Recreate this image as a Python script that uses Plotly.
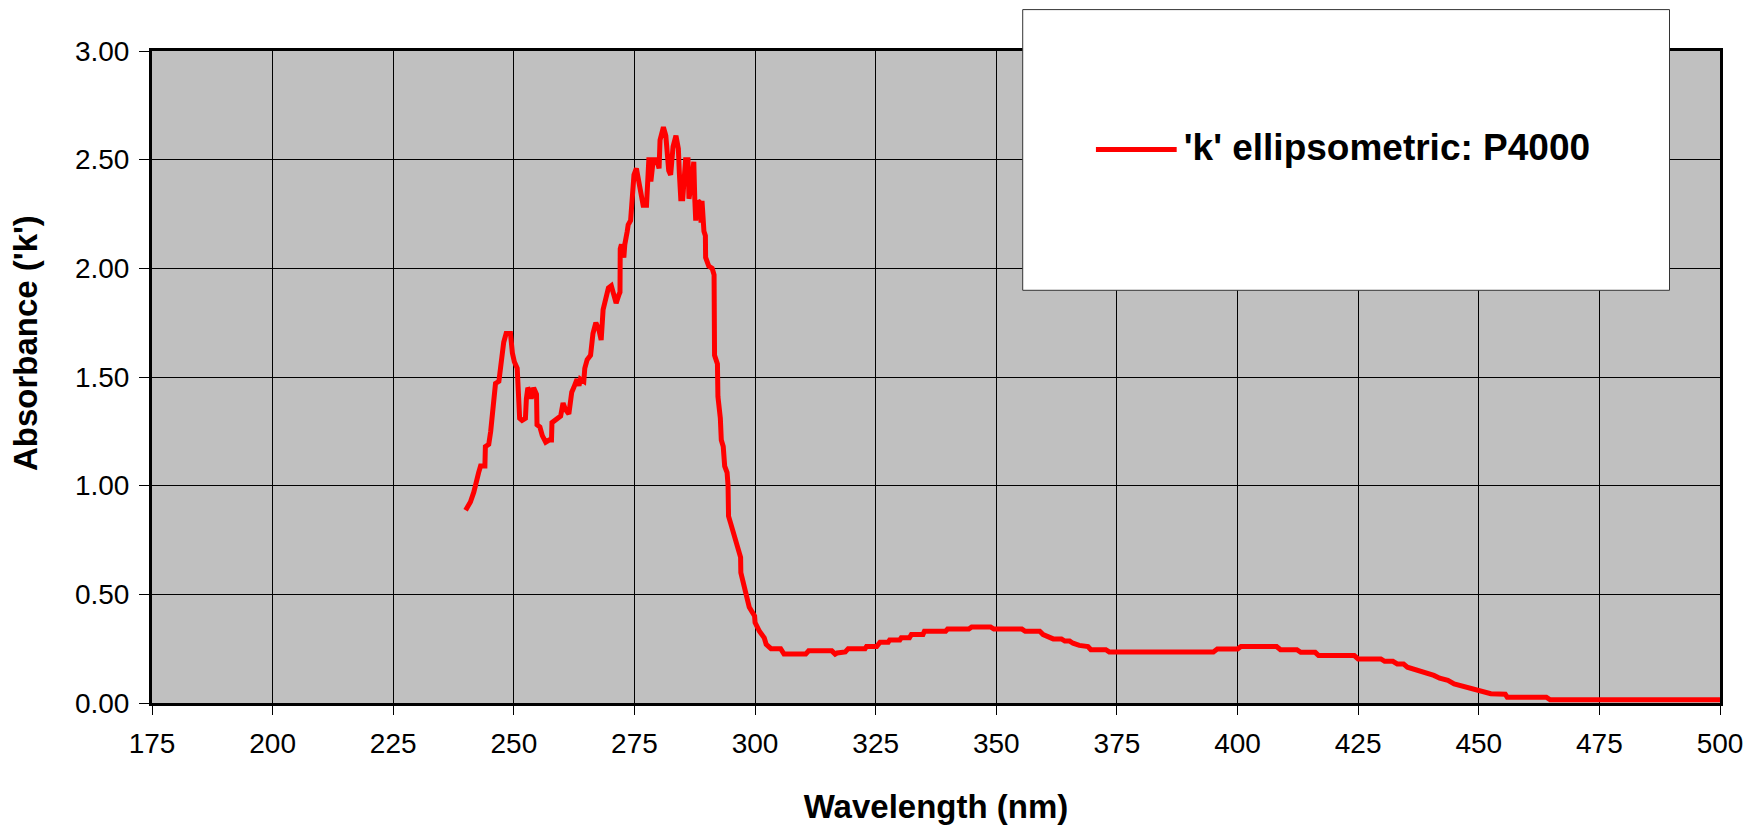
import plotly.graph_objects as go

wavelength = [
    240.0, 241.0, 241.7, 242.4, 242.7, 243.1, 244.0, 244.1, 244.8, 245.2,
    245.5, 245.9, 246.2, 246.9, 247.1, 247.4, 247.5, 247.9, 248.4, 249.3,
    249.7, 250.1, 250.7, 250.8, 251.0, 251.2, 251.7, 252.4, 252.6, 252.9,
    253.5, 253.6, 254.1, 254.7, 254.8, 255.4, 255.9, 256.6, 257.3, 257.8,
    257.9, 259.0, 259.7, 260.2, 260.7, 261.4, 262.0, 262.4, 263.1, 263.5,
    263.8, 264.5, 264.7, 265.2, 265.9, 266.4, 267.0, 267.6, 268.1, 268.5,
    269.0, 269.6, 270.2, 270.7, 271.2, 271.8, 272.0, 272.05, 272.3, 272.8,
    273.0, 273.5, 273.7, 274.2, 274.5, 274.9, 275.4, 276.3, 276.8, 277.5,
    277.7, 278.0, 278.4, 278.9, 279.6, 280.1, 280.3, 281.0, 281.5, 282.1,
    282.5, 283.0, 283.6, 284.1, 284.3, 284.6, 285.0, 285.6, 286.1, 286.3,
    286.8, 287.1, 287.3, 287.5, 287.7, 288.2, 288.7, 288.8, 289.0, 289.4,
    289.7, 289.75, 290.4, 291.1, 291.5, 291.6, 292.2, 292.3, 292.8, 293.0,
    293.4, 293.7, 294.2, 294.4, 294.5, 294.9, 295.6, 296.2, 297.0, 297.05,
    297.8, 298.8, 299.9, 300.0, 300.9, 301.9, 302.3, 303.3, 305.3, 306.0,
    310.5, 311.1, 315.9, 316.6, 317.0, 318.7, 319.3, 322.8, 323.1, 325.2,
    325.9, 327.6, 327.9, 330.0, 330.3, 332.0, 332.4, 334.8, 335.1, 339.5,
    339.9, 344.3, 344.9, 348.8, 349.5, 355.3, 356.0, 359.0, 359.7, 361.1,
    361.8, 363.5, 364.2, 365.2, 365.9, 367.2, 369.0, 369.6, 372.7, 373.4,
    395.0, 395.8, 400.0, 400.7, 408.1, 408.9, 412.3, 413.1, 416.1, 416.8,
    424.2, 425.0, 429.7, 430.5, 432.2, 433.1, 434.4, 435.2, 436.4, 438.1,
    439.0, 440.7, 441.9, 443.6, 444.9, 447.0, 448.7, 450.4, 452.5, 455.5,
    455.9, 464.0, 464.8, 500.0,
]

k_value = [
    0.887, 0.925, 0.97, 1.02, 1.06, 1.09, 1.09, 1.18, 1.19, 1.25,
    1.31, 1.38, 1.47, 1.48, 1.52, 1.55, 1.61, 1.66, 1.70, 1.70,
    1.61, 1.57, 1.54, 1.45, 1.40, 1.31, 1.30, 1.31, 1.40, 1.45,
    1.43, 1.40, 1.45, 1.42, 1.28, 1.27, 1.23, 1.20, 1.21, 1.21,
    1.29, 1.31, 1.32, 1.38, 1.35, 1.33, 1.43, 1.45, 1.49, 1.46,
    1.49, 1.48, 1.54, 1.58, 1.60, 1.70, 1.75, 1.72, 1.67, 1.81,
    1.86, 1.91, 1.92, 1.87, 1.84, 1.88, 1.89, 2.09, 2.11, 2.05,
    2.11, 2.17, 2.20, 2.22, 2.32, 2.43, 2.46, 2.36, 2.29, 2.29,
    2.39, 2.51, 2.40, 2.50, 2.50, 2.46, 2.59, 2.65, 2.61, 2.45,
    2.43, 2.56, 2.61, 2.55, 2.44, 2.32, 2.32, 2.50, 2.50, 2.32,
    2.39, 2.49, 2.49, 2.32, 2.22, 2.31, 2.30, 2.21, 2.31, 2.17,
    2.15, 2.05, 2.01, 2.00, 1.97, 1.60, 1.56, 1.41, 1.31, 1.21,
    1.18, 1.09, 1.06, 1.00, 0.86, 0.83, 0.78, 0.73, 0.67, 0.60,
    0.52, 0.44, 0.40, 0.37, 0.33, 0.30, 0.27, 0.25, 0.25, 0.225,
    0.225, 0.24, 0.24, 0.225, 0.23, 0.235, 0.25, 0.25, 0.26, 0.26,
    0.28, 0.28, 0.29, 0.29, 0.30, 0.30, 0.315, 0.315, 0.33, 0.33,
    0.34, 0.34, 0.35, 0.35, 0.34, 0.34, 0.33, 0.33, 0.315, 0.305,
    0.295, 0.295, 0.285, 0.285, 0.275, 0.265, 0.26, 0.245, 0.245, 0.235,
    0.235, 0.248, 0.248, 0.26, 0.26, 0.245, 0.245, 0.233, 0.233, 0.218,
    0.218, 0.203, 0.203, 0.192, 0.192, 0.18, 0.18, 0.165, 0.157, 0.146,
    0.137, 0.127, 0.114, 0.104, 0.088, 0.076, 0.066, 0.053, 0.043, 0.04,
    0.027, 0.027, 0.015, 0.015,
]

x_ticks = [175, 200, 225, 250, 275, 300, 325, 350, 375, 400, 425, 450, 475, 500]
y_ticks = [0.0, 0.5, 1.0, 1.5, 2.0, 2.5, 3.0]
y_tick_labels = ["0.00", "0.50", "1.00", "1.50", "2.00", "2.50", "3.00"]

series_name = "'k' ellipsometric: P4000"
x_title = "Wavelength (nm)"
y_title = "Absorbance ('k')"

FONT = "Liberation Sans, Arial, sans-serif"
RED = "#FF0000"

fig = go.Figure()
fig.add_trace(go.Scatter(
    x=wavelength, y=k_value, mode="lines", name=series_name,
    line=dict(color=RED, width=5), showlegend=False, legendgroup="k",
))
# legend entry for the series (its key line is drawn longer below, as in the original)
fig.add_trace(go.Scatter(
    x=[None], y=[None], mode="lines", name=series_name,
    line=dict(color=RED, width=0), showlegend=True, legendgroup="k",
))

LEG_Y = 0.854
KEY_Y = 0.849

# legend frame
fig.add_shape(
    type="rect", xref="paper", yref="paper",
    x0=0.5553, x1=0.9678, y0=0.633, y1=1.0635,
    fillcolor="white", line=dict(color="#333333", width=1), layer="above",
)
# legend key line
fig.add_shape(
    type="line", xref="paper", yref="paper",
    x0=0.602, x1=0.6535, y0=KEY_Y, y1=KEY_Y,
    line=dict(color=RED, width=5), layer="above",
)

fig.add_annotation(
    text=y_title, xref="paper", yref="paper", x=-0.081, y=0.552,
    xanchor="center", yanchor="middle", textangle=-90, showarrow=False,
    font=dict(family=FONT, size=33, weight="bold", color="black"),
)

fig.update_layout(
    width=1755, height=818,
    margin=dict(l=144, r=43, t=43, b=123, autoexpand=False),
    paper_bgcolor="white", plot_bgcolor="#C0C0C0",
    font=dict(family=FONT, color="black", size=28),
    showlegend=True,
    legend=dict(
        x=0.6325, y=LEG_Y, xanchor="left", yanchor="middle",
        bgcolor="rgba(0,0,0,0)", borderwidth=0,
        font=dict(family=FONT, size=37, weight="bold", color="black"),
    ),
    xaxis=dict(
        range=[175, 500], tickmode="array", tickvals=x_ticks,
        showgrid=True, gridcolor="black", gridwidth=1,
        showline=True, linecolor="black", linewidth=3, mirror=True,
        ticks="outside", ticklen=9, tickcolor="black", tickwidth=1,
        ticklabelstandoff=4, zeroline=False,
        tickfont=dict(family=FONT, size=28),
        title=dict(text=x_title, font=dict(family=FONT, size=33, weight="bold"), standoff=38),
    ),
    yaxis=dict(
        range=[0, 3], tickmode="array", tickvals=y_ticks, ticktext=y_tick_labels,
        showgrid=True, gridcolor="black", gridwidth=1,
        showline=True, linecolor="black", linewidth=3, mirror=True,
        ticks="outside", ticklen=10, tickcolor="black", tickwidth=1,
        ticklabelstandoff=4, zeroline=False,
        tickfont=dict(family=FONT, size=28),
    ),
)

fig.write_html("out.html")
